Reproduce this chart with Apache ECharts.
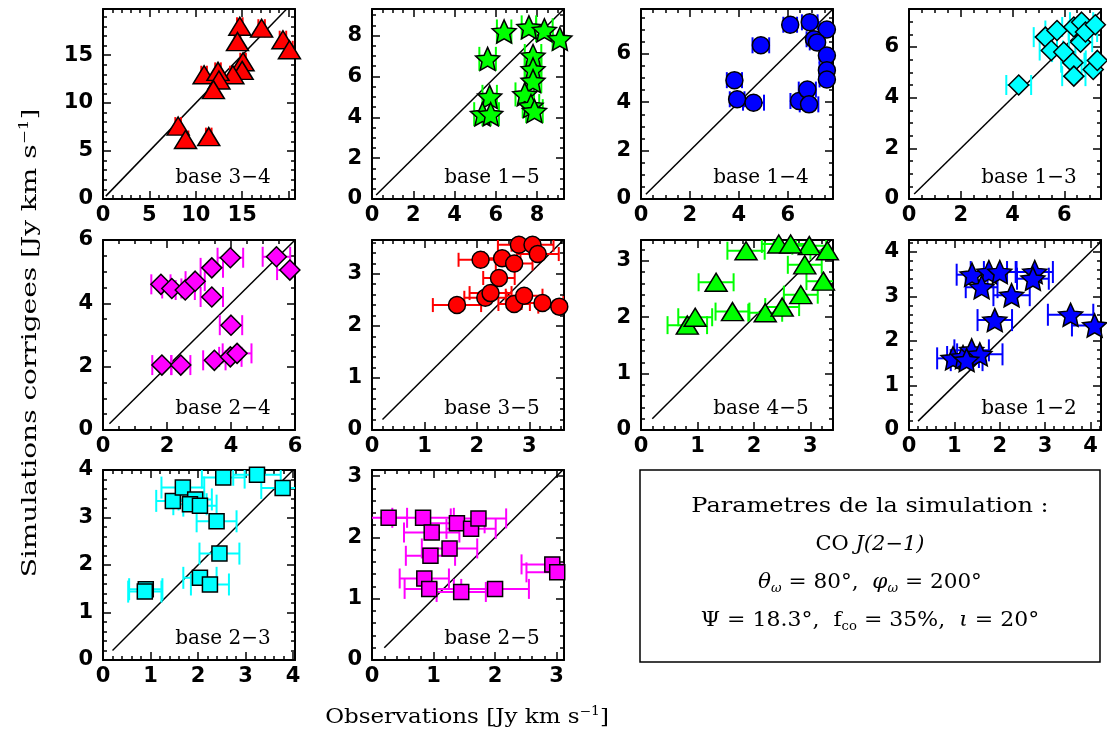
<!DOCTYPE html>
<html><head><meta charset="utf-8">
<script src="https://cdn.jsdelivr.net/npm/echarts@6/dist/echarts.min.js"></script>
<style>html,body{margin:0;padding:0;background:#fff}#c{width:1107px;height:734px}</style>
</head><body><div id="c"></div>
<script>
// ---------- data (observations, corrected simulations, x-errors) ----------
const base34_obs = [14.75, 17.1, 14.5, 19.4, 20.1, 15.1, 15.0, 14.0, 10.9, 12.4, 12.5, 11.9, 8.1, 8.9, 11.4];
const base34_sim = [18.0, 17.8, 16.4, 16.6, 15.55, 14.3, 13.4, 12.95, 12.95, 13.3, 12.4, 11.4, 7.6, 6.2, 6.5];
const base34_err = [0.3, 0.35, 0.3, 0.35, 0.35, 0.3, 0.3, 0.3, 0.3, 0.3, 0.3, 0.3, 0.3, 0.3, 0.3];

const base15_obs = [6.4, 7.6, 8.35, 9.1, 5.6, 7.8, 7.8, 7.8, 7.4, 5.7, 5.35, 5.75, 7.7, 7.87];
const base15_sim = [8.2, 8.4, 8.26, 7.84, 6.86, 7.0, 6.34, 5.77, 5.12, 5.0, 4.15, 4.15, 4.55, 4.3];
const base15_err = [0.35, 0.35, 0.4, 0.35, 0.4, 0.4, 0.4, 0.4, 0.45, 0.35, 0.4, 0.4, 0.4, 0.4];

const base14_obs = [6.1, 6.9, 7.6, 7.07, 7.2, 4.9, 7.6, 7.6, 7.6, 3.82, 3.93, 4.6, 6.46, 6.8, 6.87];
const base14_sim = [7.2, 7.3, 7.0, 6.6, 6.47, 6.35, 5.93, 5.32, 4.94, 4.91, 4.12, 3.98, 4.05, 4.52, 3.91];
const base14_err = [0.28, 0.32, 0.3, 0.3, 0.3, 0.34, 0.3, 0.3, 0.3, 0.31, 0.3, 0.43, 0.35, 0.35, 0.38];

const base13_obs = [4.24, 5.27, 5.72, 5.5, 5.98, 6.37, 6.67, 6.63, 6.82, 7.2, 6.33, 6.37, 7.12, 7.28];
const base13_sim = [4.5, 6.39, 6.65, 5.86, 5.8, 6.79, 6.98, 6.19, 6.59, 6.88, 5.38, 4.85, 5.11, 5.47];
const base13_err = [0.48, 0.45, 0.45, 0.45, 0.45, 0.45, 0.45, 0.45, 0.45, 0.45, 0.45, 0.45, 0.45, 0.45];

const base24_obs = [1.81, 2.15, 2.57, 2.88, 3.4, 3.98, 5.42, 5.84, 3.4, 4.0, 1.84, 2.43, 3.48, 3.98, 4.19];
const base24_sim = [4.6, 4.47, 4.42, 4.7, 5.12, 5.44, 5.47, 5.05, 4.2, 3.31, 2.05, 2.05, 2.2, 2.31, 2.42];
const base24_err = [0.3, 0.3, 0.3, 0.3, 0.35, 0.4, 0.43, 0.4, 0.35, 0.35, 0.3, 0.3, 0.35, 0.35, 0.45];

const base35_obs = [1.62, 2.16, 2.26, 2.07, 2.48, 2.42, 2.71, 2.8, 3.06, 3.16, 2.71, 2.9, 3.25, 3.57];
const base35_sim = [2.4, 2.54, 2.63, 3.27, 3.3, 2.92, 3.2, 3.56, 3.56, 3.38, 2.42, 2.58, 2.44, 2.37];
const base35_err = [0.46, 0.4, 0.4, 0.42, 0.35, 0.3, 0.35, 0.4, 0.4, 0.4, 0.3, 0.35, 0.4, 0.4];

const base45_obs = [0.82, 0.96, 1.33, 1.62, 1.86, 2.2, 2.5, 2.44, 2.83, 2.9, 2.98, 3.23, 3.3, 2.65];
const base45_sim = [1.86, 2.0, 2.62, 2.1, 3.18, 2.08, 2.18, 3.3, 2.4, 2.93, 3.27, 2.64, 3.18, 3.3];
const base45_err = [0.35, 0.3, 0.31, 0.3, 0.33, 0.3, 0.3, 0.3, 0.3, 0.3, 0.3, 0.3, 0.3, 0.3];

const base12_obs = [1.39, 1.76, 2.0, 1.6, 2.26, 2.77, 2.73, 1.89, 3.56, 4.09, 0.97, 1.19, 1.38, 1.56, 1.27];
const base12_sim = [3.49, 3.55, 3.55, 3.21, 3.03, 3.55, 3.4, 2.47, 2.59, 2.35, 1.61, 1.64, 1.79, 1.7, 1.57];
const base12_err = [0.34, 0.4, 0.35, 0.35, 0.4, 0.4, 0.35, 0.38, 0.5, 0.5, 0.35, 0.35, 0.38, 0.5, 0.35];

const base23_obs = [1.47, 1.68, 1.94, 1.83, 2.04, 2.53, 3.24, 3.78, 2.39, 2.45, 2.04, 2.25, 0.9, 0.88];
const base23_sim = [3.35, 3.63, 3.38, 3.28, 3.25, 3.84, 3.9, 3.62, 2.92, 2.24, 1.73, 1.59, 1.49, 1.44];
const base23_err = [0.35, 0.45, 0.35, 0.35, 0.35, 0.45, 0.5, 0.45, 0.42, 0.42, 0.35, 0.4, 0.35, 0.35];

const base25_obs = [0.27, 0.83, 0.97, 1.38, 1.61, 1.73, 1.26, 0.95, 0.85, 0.93, 1.45, 2.0, 2.93, 3.01];
const base25_sim = [2.32, 2.32, 2.08, 2.23, 2.14, 2.31, 1.82, 1.7, 1.33, 1.16, 1.11, 1.16, 1.56, 1.43];
const base25_err = [0.3, 0.5, 0.45, 0.45, 0.4, 0.45, 0.45, 0.4, 0.4, 0.4, 0.4, 0.55, 0.5, 0.5];

// ---------- panel labels and axis scales ----------
const baseLabels = ['base 3\u22124','base 1\u22125','base 1\u22124','base 1\u22123','base 2\u22124','base 3\u22125','base 4\u22125','base 1\u22122','base 2\u22123','base 2\u22125'];
const axisMaxX  = [20.7, 9.3, 7.85, 7.42, 6, 3.66, 3.4, 4.23, 4.04, 3.12];
const axisMaxY  = [19.8, 9.3, 7.85, 7.5, 6, 3.65, 3.37, 4.27, 4.0, 3.1];
const majorStep = [5, 2, 2, 2, 2, 1, 1, 1, 1, 1];
const minorStep = [1, 0.5, 0.5, 0.5, 0.5, 0.2, 0.2, 0.2, 0.2, 0.2];
const lastXLabel = [15, 8, 6, 6, 6, 3, 3, 4, 4, 3];   // largest labelled x tick

const obsList = [base34_obs, base15_obs, base14_obs, base13_obs, base24_obs, base35_obs, base45_obs, base12_obs, base23_obs, base25_obs];
const simList = [base34_sim, base15_sim, base14_sim, base13_sim, base24_sim, base35_sim, base45_sim, base12_sim, base23_sim, base25_sim];
const errList = [base34_err, base15_err, base14_err, base13_err, base24_err, base35_err, base45_err, base12_err, base23_err, base25_err];

// ---------- styles / layout ----------
const STAR = 'path://M0,-100 L28,-38 L95.1,-30.9 L45,14.6 L58.8,80.9 L0,48 L-58.8,80.9 L-45,14.6 L-95.1,-30.9 L-28,-38 Z';
const markerColor = ['#ff0000','#00ff00','#0000ff','#00ffff','#ff00ff','#ff0000','#00ff00','#0000ff','#00ffff','#ff00ff'];
const markerSymbol = ['triangle', STAR, 'circle', 'diamond', 'diamond', 'circle', 'triangle', STAR, 'rect', 'rect'];
const markerSize = [[22,18], [24,23], 17, [20,20], [20,20], 17, [22,18], [24,23], 15, 15];
const capHalf = [9, 12, 8, 10, 10, 7, 9, 11, 11, 10];
const diagStart = [0.3, 0.2, 0.2, 0.2, 0.2, 0.2, 0.2, 0.2, 0.2, 0.2];
const colLeft = [103, 372, 641, 909], rowTop = [9, 240, 470], W = 192, H = 190;
const SERIF = '"DejaVu Serif", serif';

function mkAxis(i, pos, maj, dim) {
  const max = dim === 'x' ? axisMaxX[i] : axisMaxY[i];
  const step = maj ? majorStep[i] : minorStep[i];
  const labelled = maj && (pos === 'bottom' || pos === 'left');
  const q = max / majorStep[i];
  const lim = dim === 'x' ? lastXLabel[i] : Infinity;
  return {
    type: 'value', gridIndex: i, position: pos, min: 0, max: max, interval: step,
    axisLine: {show: maj, onZero: false, lineStyle: {color: '#000', width: 2}},
    axisTick: {show: true, inside: true, length: maj ? 8 : 4, lineStyle: {color: '#000', width: 1.5}},
    axisLabel: {show: labelled, showMaxLabel: Math.abs(q - Math.round(q)) < 1e-6, showMinLabel: true,
      color: '#000', fontFamily: '"DejaVu Sans", sans-serif', fontWeight: 'bold', fontSize: 21,
      margin: dim === 'x' ? 6 : 10, hideOverlap: false,
      formatter: v => (v > lim + 1e-9 ? '' : String(v))},
    splitLine: {show: false}, minorTick: {show: false}, minorSplitLine: {show: false}, splitArea: {show: false}
  };
}

function errRender(capH, color) {
  return function (params, api) {
    const x = api.value(0), y = api.value(1), e = api.value(2);
    const p0 = api.coord([x - e, y]), p1 = api.coord([x + e, y]);
    const st = {stroke: color, lineWidth: 2};
    return {type: 'group', children: [
      {type: 'line', shape: {x1: p0[0], y1: p0[1], x2: p1[0], y2: p1[1]}, style: st},
      {type: 'line', shape: {x1: p0[0], y1: p0[1] - capH, x2: p0[0], y2: p0[1] + capH}, style: st},
      {type: 'line', shape: {x1: p1[0], y1: p1[1] - capH, x2: p1[0], y2: p1[1] + capH}, style: st}
    ]};
  };
}

const option = {animation: false, backgroundColor: '#fff', grid: [], xAxis: [], yAxis: [], series: [], graphic: []};

for (let i = 0; i < 10; i++) {
  const r = Math.floor(i / 4), c = i % 4;
  option.grid.push({left: colLeft[c], top: rowTop[r], width: W, height: H, show: false});
  ['bottom', 'top'].forEach(pos => [true, false].forEach(maj => option.xAxis.push(mkAxis(i, pos, maj, 'x'))));
  ['left', 'right'].forEach(pos => [true, false].forEach(maj => option.yAxis.push(mkAxis(i, pos, maj, 'y'))));
  const ax = 4 * i;
  const e = Math.min(axisMaxX[i], axisMaxY[i]);
  option.series.push({type: 'line', xAxisIndex: ax, yAxisIndex: ax, data: [[diagStart[i], diagStart[i]], [e, e]],
    symbol: 'none', lineStyle: {color: '#000', width: 1.5}, silent: true, z: 2});
  option.series.push({type: 'custom', xAxisIndex: ax, yAxisIndex: ax, clip: true, z: 3, silent: true,
    renderItem: errRender(capHalf[i], markerColor[i]), encode: {x: 0, y: 1},
    data: obsList[i].map((x, k) => [x, simList[i][k], errList[i][k]])});
  option.series.push({type: 'scatter', xAxisIndex: ax, yAxisIndex: ax, z: 4, silent: true,
    symbol: markerSymbol[i], symbolSize: markerSize[i],
    itemStyle: {color: markerColor[i], borderColor: '#000', borderWidth: 1.5, opacity: 1},
    data: obsList[i].map((x, k) => [x, simList[i][k]])});
  option.graphic.push({type: 'text', x: colLeft[c] + 120, y: rowTop[r] + 169, z: 10,
    style: {text: baseLabels[i], font: '20px ' + SERIF, fill: '#000', align: 'center', verticalAlign: 'middle'}});
}

const richBase = {
  a: {fontFamily: SERIF, fontSize: 20, lineHeight: 26, color: '#000'},
  i: {fontFamily: SERIF, fontSize: 20, lineHeight: 26, fontStyle: 'italic', color: '#000'},
  sub: {fontFamily: SERIF, fontSize: 12, lineHeight: 14, padding: [12, 0, 0, 0], color: '#000'},
  si: {fontFamily: SERIF, fontSize: 12, lineHeight: 14, padding: [12, 0, 0, 0], fontStyle: 'italic', color: '#000'},
  sup: {fontFamily: SERIF, fontSize: 12, lineHeight: 14, padding: [0, 0, 12, 0], color: '#000'}
};
function rtext(txt, x, y, sx, rot) {
  return {type: 'text', x: x, y: y, scaleX: sx, rotation: rot || 0, z: 10,
    style: {text: txt, rich: richBase, align: 'center', verticalAlign: 'middle', fill: '#000'}};
}

// info box
option.graphic.push({type: 'rect', shape: {x: 640, y: 470, width: 460, height: 192},
  style: {fill: 'none', stroke: '#000', lineWidth: 1.5}, z: 10});
option.graphic.push(rtext('{a|Parametres de la simulation :}', 870, 507, 1.2));
option.graphic.push(rtext('{a|CO }{i|J(2\u22121)}', 870, 545, 1.05));
option.graphic.push(rtext('{i|\u03b8}{si|\u03c9}{a| = 80\u00b0,  }{i|\u03c6}{si|\u03c9}{a| = 200\u00b0}', 870, 583, 1.08));
option.graphic.push(rtext('{a|\u03a8 = 18.3\u00b0,  f}{sub|co}{a| = 35%,  }{i|\u03b9}{a| = 20\u00b0}', 870, 621, 1.1));

// axis titles
option.graphic.push(rtext('{a|Observations [Jy km s}{sup|\u22121}{a|]}', 467, 718, 1.15));
option.graphic.push(rtext('{a|Simulations corrigees [Jy km s}{sup|\u22121}{a|]}', 31, 343, 1.4, Math.PI / 2));

const chart = echarts.init(document.getElementById('c'), null, {renderer: 'canvas'});
chart.setOption(option);
</script></body></html>
